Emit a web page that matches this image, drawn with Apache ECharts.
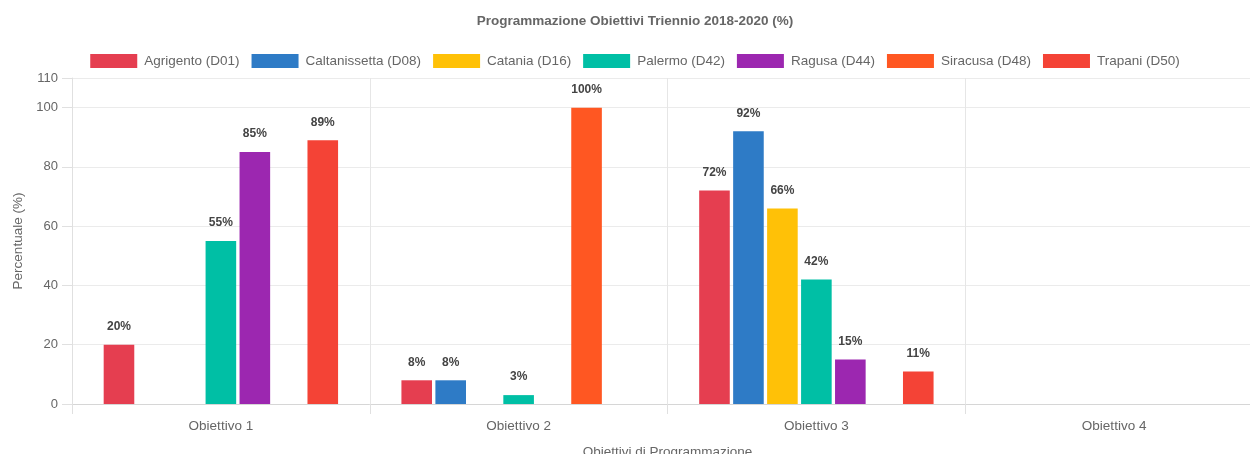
<!DOCTYPE html>
<html>
<head>
<meta charset="utf-8">
<script src="https://cdn.jsdelivr.net/npm/echarts@6/dist/echarts.min.js"></script>
<style>
html,body{margin:0;padding:0;background:#fff;overflow:hidden;width:1250px;height:454px;}
#c{position:absolute;left:0;top:0;width:1270px;height:454px;}
</style>
</head>
<body>
<div id="c"></div>
<script>
const categories = ['Obiettivo 1', 'Obiettivo 2', 'Obiettivo 3', 'Obiettivo 4'];
const seriesNames = ['Agrigento (D01)', 'Caltanissetta (D08)', 'Catania (D16)', 'Palermo (D42)', 'Ragusa (D44)', 'Siracusa (D48)', 'Trapani (D50)'];
const agrigento = [20, 8, 72, 0];
const caltanissetta = [0, 8, 92, 0];
const catania = [0, 0, 66, 0];
const palermo = [55, 3, 42, 0];
const ragusa = [85, 0, 15, 0];
const siracusa = [0, 100, 0, 0];
const trapani = [89, 0, 11, 0];
const yTicks = [0, 20, 40, 60, 80, 100, 110];
const colors = ['#E53E50', '#2E7BC6', '#FFC107', '#00BFA5', '#9C27B0', '#FF5722', '#F44336'];
const values = [agrigento, caltanissetta, catania, palermo, ragusa, siracusa, trapani];

const font = 'Liberation Sans, Arial, sans-serif';
const fs = 13.5;
const chart = echarts.init(document.getElementById('c'));
chart.setOption({
  animation: false,
  textStyle: { fontFamily: font },
  title: {
    text: 'Programmazione Obiettivi Triennio 2018-2020 (%)',
    left: 'center', top: 9,
    textStyle: { fontSize: fs, fontWeight: 'bold', color: '#666', fontFamily: font }
  },
  legend: {
    data: seriesNames,
    left: 'center', top: 49,
    icon: 'rect',
    itemWidth: 47, itemHeight: 14, itemGap: 12,
    textStyle: { fontSize: fs, color: '#666', fontFamily: font, padding: [0, 0, 0, 2] }
  },
  grid: { left: 72, right: 7, top: 78, bottom: 50, containLabel: false, outerBoundsMode: 'none' },
  xAxis: {
    type: 'category',
    data: categories,
    name: 'Obiettivi di Programmazione',
    nameLocation: 'middle', nameGap: 41,
    nameTextStyle: { fontSize: fs, color: '#666' },
    axisLine: { show: true, lineStyle: { color: '#d6d6d6' } },
    axisTick: { show: true, length: 10, lineStyle: { color: '#e0e0e0' } },
    axisLabel: { color: '#666', fontSize: fs, margin: 15 },
    splitLine: { show: true, lineStyle: { color: '#e6e6e6' } }
  },
  yAxis: {
    type: 'value',
    min: yTicks[0], max: yTicks[yTicks.length - 1], interval: 20,
    name: 'Percentuale (%)',
    nameLocation: 'middle', nameGap: 45, nameRotate: 90,
    nameTextStyle: { fontSize: fs, color: '#666' },
    axisLine: { show: true, lineStyle: { color: '#e0e0e0' } },
    axisTick: { show: true, length: 10, lineStyle: { color: '#e0e0e0' } },
    axisLabel: { color: '#666', fontSize: 13, margin: 14 },
    splitLine: { show: true, lineStyle: { color: '#ebebeb' } }
  },
  series: seriesNames.map((n, i) => ({
    name: n,
    type: 'bar',
    data: values[i],
    barWidth: 30.6,
    barGap: '11%',
    itemStyle: { color: colors[i], borderWidth: 0 },
    label: {
      show: true, position: 'top', distance: 12,
      fontSize: 12, fontWeight: 'bold', color: '#444', fontFamily: font,
      formatter: p => p.value ? p.value + '%' : ''
    }
  }))
});
</script>
</body>
</html>
